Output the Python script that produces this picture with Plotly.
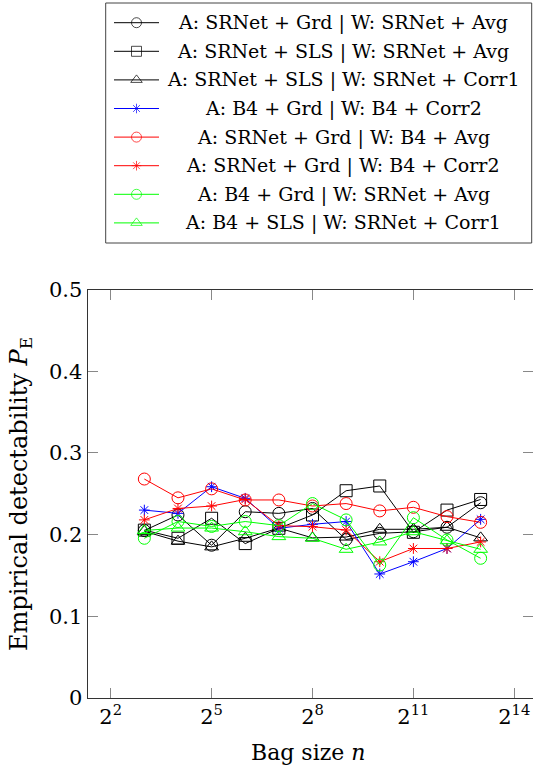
import math
import plotly.graph_objects as go

# Bag sizes n = 2^3 ... 2^13
exponents = [3, 4, 5, 6, 7, 8, 9, 10, 11, 12, 13]
bag_sizes = [2 ** k for k in exponents]

series_names = [
    "A: SRNet + Grd | W: SRNet + Avg",
    "A: SRNet + SLS | W: SRNet + Avg",
    "A: SRNet + SLS | W: SRNet + Corr1",
    "A: B4 + Grd | W: B4 + Corr2",
    "A: SRNet + Grd | W: B4 + Avg",
    "A: SRNet + Grd | W: B4 + Corr2",
    "A: B4 + Grd | W: SRNet + Avg",
    "A: B4 + SLS | W: SRNet + Corr1",
]

srnet_grd_srnet_avg = [0.205, 0.224, 0.187, 0.228, 0.226, 0.232, 0.194, 0.2015, 0.2035, 0.209, 0.239]
srnet_sls_srnet_avg = [0.2055, 0.1955, 0.220, 0.189, 0.2077, 0.224, 0.2537, 0.2595, 0.2028, 0.230, 0.243]
srnet_sls_srnet_corr1 = [0.204, 0.192, 0.185, 0.1955, 0.208, 0.196, 0.197, 0.2065, 0.2065, 0.209, 0.196]
b4_grd_b4_corr2 = [0.230, 0.226, 0.2586, 0.2444, 0.2077, 0.2126, 0.216, 0.1518, 0.1668, 0.183, 0.2187]
srnet_grd_b4_avg = [0.268, 0.245, 0.256, 0.2424, 0.2424, 0.235, 0.238, 0.229, 0.2334, 0.222, 0.215]
srnet_grd_b4_corr2 = [0.218, 0.232, 0.235, 0.243, 0.211, 0.2097, 0.2056, 0.1668, 0.183, 0.183, 0.191]
b4_grd_srnet_avg = [0.1955, 0.216, 0.210, 0.216, 0.211, 0.238, 0.218, 0.1628, 0.2207, 0.1934, 0.171]
b4_sls_srnet_corr1 = [0.205, 0.208, 0.208, 0.2035, 0.1975, 0.1955, 0.182, 0.191, 0.2035, 0.1925, 0.182]

series_values = [
    srnet_grd_srnet_avg, srnet_sls_srnet_avg, srnet_sls_srnet_corr1, b4_grd_b4_corr2,
    srnet_grd_b4_avg, srnet_grd_b4_corr2, b4_grd_srnet_avg, b4_sls_srnet_corr1,
]
series_colors = ["#000000", "#000000", "#000000", "#0000ff",
                 "#ff0000", "#ff0000", "#00ff00", "#00ff00"]
series_symbols = ["circle-open", "square-open", "triangle-up-open", "asterisk-open",
                  "circle-open", "asterisk-open", "circle-open", "triangle-up-open"]

x_tick_exponents = [2, 5, 8, 11, 14]
y_ticks = [0, 0.1, 0.2, 0.3, 0.4, 0.5]
y_tick_labels = ["0", "0.1", "0.2", "0.3", "0.4", "0.5"]

W, H = 533, 769
FONT = "DejaVu Serif"

# plot frame in pixels
px_left, px_right, px_top, px_bottom = 87.5, 533.0, 289.5, 698.0
log2_min, log2_max = 1.31, 14.557

fig = go.Figure()

for name, vals, col, sym in zip(series_names, series_values, series_colors, series_symbols):
    size = 9 if sym == "asterisk-open" else 12
    fig.add_trace(go.Scatter(
        x=bag_sizes, y=vals, mode="lines+markers", name=name, showlegend=False,
        line=dict(color=col, width=1),
        marker=dict(symbol=sym, size=size, color=col, line=dict(color=col, width=1)),
        xaxis="x", yaxis="y",
    ))

# legend block: sample line with centred marker plus centred label
leg_left, leg_right, leg_top, leg_bottom = 105.7, 531.7, 3.0, 243.0
row_first, row_step = 22.7, 28.6
sample_x0, sample_x1 = 114.0, 159.0
text_center = 343.0
for i, (name, col, sym) in enumerate(zip(series_names, series_colors, series_symbols)):
    ry = row_first + i * row_step
    msize = 8 if sym == "asterisk-open" else 10
    fig.add_trace(go.Scatter(
        x=[sample_x0, (sample_x0 + sample_x1) / 2, sample_x1], y=[ry, ry, ry],
        mode="lines+markers", showlegend=False, hoverinfo="skip",
        line=dict(color=col, width=1),
        marker=dict(symbol=sym, size=[0, msize, 0], color=col, line=dict(color=col, width=1)),
        xaxis="x2", yaxis="y2",
    ))
    fig.add_annotation(
        x=text_center / W, y=1 - ry / H, xref="paper", yref="paper",
        text=name, showarrow=False, xanchor="center", yanchor="middle",
        font=dict(family=FONT, size=19, color="black"),
    )

fig.add_shape(type="rect", xref="paper", yref="paper",
              x0=leg_left / W, x1=leg_right / W, y0=1 - leg_top / H, y1=1 - leg_bottom / H,
              line=dict(color="#444444", width=1), fillcolor="rgba(0,0,0,0)")

# axis titles
fig.add_annotation(x=308 / W, y=1 - 752 / H, xref="paper", yref="paper",
                   text="Bag size <i>n</i>", showarrow=False,
                   xanchor="center", yanchor="middle",
                   font=dict(family=FONT, size=22, color="black"))
fig.add_annotation(x=20 / W, y=1 - 494 / H, xref="paper", yref="paper",
                   text="Empirical detectability <i>P</i><sub>E</sub>", showarrow=False,
                   textangle=-90, xanchor="center", yanchor="middle",
                   font=dict(family=FONT, size=24, color="black"))

fig.update_layout(
    width=W, height=H,
    margin=dict(l=0, r=0, t=0, b=0, autoexpand=False),
    paper_bgcolor="white", plot_bgcolor="rgba(0,0,0,0)",
    showlegend=False,
    xaxis=dict(
        type="log",
        domain=[px_left / W, px_right / W],
        range=[log2_min * math.log10(2), log2_max * math.log10(2)],
        tickvals=[2 ** e for e in x_tick_exponents],
        ticktext=[f"2<sup>{e}</sup>" for e in x_tick_exponents],
        ticks="inside", ticklen=10, tickcolor="#888888", tickwidth=1,
        showline=True, linecolor="#333333", linewidth=1, mirror="ticks",
        showgrid=False, zeroline=False, automargin=False,
        tickfont=dict(family=FONT, size=21, color="black"),
        anchor="y",
    ),
    yaxis=dict(
        domain=[1 - px_bottom / H, 1 - px_top / H],
        range=[0, 0.5],
        tickvals=y_ticks, ticktext=y_tick_labels,
        ticks="inside", ticklen=10, tickcolor="#888888", tickwidth=1,
        showline=True, linecolor="#333333", linewidth=1, mirror="ticks",
        showgrid=False, zeroline=False, automargin=False,
        tickfont=dict(family=FONT, size=21, color="black"),
        anchor="x",
    ),
    xaxis2=dict(domain=[0, 1], range=[0, W], visible=False, anchor="y2",
                fixedrange=True, automargin=False),
    yaxis2=dict(domain=[0, 1], range=[H, 0], visible=False, anchor="x2",
                fixedrange=True, automargin=False),
)

fig.write_html("out.html")
